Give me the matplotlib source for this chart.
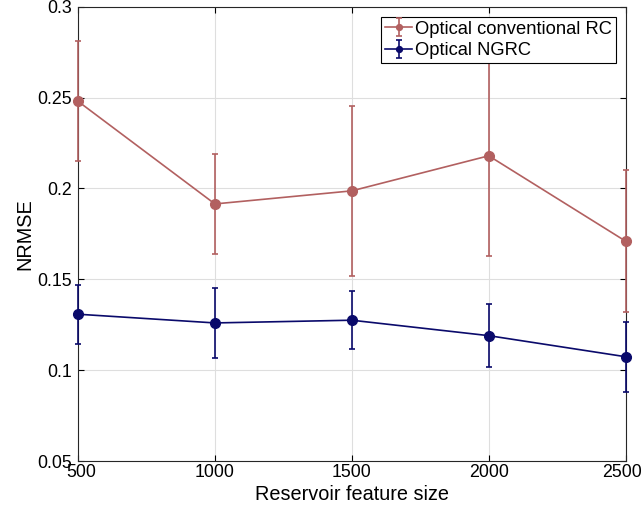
import matplotlib
matplotlib.use('Agg')
import matplotlib.pyplot as plt
import matplotlib.transforms as mtransforms
from matplotlib.ticker import FuncFormatter

plt.rcParams['font.family'] = ['Liberation Sans', 'DejaVu Sans']

# data
feature_size = [500, 1000, 1500, 2000, 2500]

rc_mean = [0.248, 0.1915, 0.1987, 0.218, 0.171]
rc_err = [0.033, 0.0275, 0.0467, 0.055, 0.039]

ngrc_mean = [0.1308, 0.126, 0.1275, 0.119, 0.1074]
ngrc_err = [0.0163, 0.0191, 0.016, 0.0175, 0.0192]

yticks = [0.05, 0.1, 0.15, 0.2, 0.25, 0.3]
xticks = [500, 1000, 1500, 2000, 2500]

red = '#B26060'
navy = '#0A0A6B'

fig = plt.figure(figsize=(6.42, 5.17), dpi=100)
ax = fig.add_axes([0.1215, 0.1083, 0.853, 0.8785])

for mean, err, col, lab in [(rc_mean, rc_err, red, 'Optical conventional RC'),
                            (ngrc_mean, ngrc_err, navy, 'Optical NGRC')]:
    eb = ax.errorbar(feature_size, mean, yerr=err, color=col, marker='o',
                     markersize=7, linewidth=1.2, elinewidth=1.2, capsize=2.5,
                     capthick=1.2, label=lab, zorder=4)
    # points sit on the axis edges, draw them over the spines
    for art in eb.get_children():
        art.set_clip_on(False)
        art.set_zorder(4)

ax.set_xlim(500, 2500)
ax.set_ylim(0.05, 0.3)
ax.set_xticks(xticks)
ax.set_yticks(yticks)
ax.yaxis.set_major_formatter(FuncFormatter(lambda v, p: f'{v:g}'))
ax.tick_params(direction='in', labelsize=12.8, top=True, right=True,
               length=4, width=0.8)
ax.tick_params(axis='x', pad=2)
ax.tick_params(axis='y', pad=4.5)
ax.grid(True, color='#dedede', linewidth=0.8)
ax.set_axisbelow(True)
for s in ax.spines.values():
    s.set_linewidth(0.8)
    s.set_color('#262626')

# nudge the corner x labels: last one inside the figure, first clear of 0.05
lbls = ax.get_xticklabels()
left = mtransforms.ScaledTranslation(-4 / 100, 0, fig.dpi_scale_trans)
right = mtransforms.ScaledTranslation(3 / 100, 0, fig.dpi_scale_trans)
lbls[-1].set_transform(lbls[-1].get_transform() + left)
lbls[0].set_transform(lbls[0].get_transform() + right)

ax.set_xlabel('Reservoir feature size', fontsize=14.3, labelpad=3)
ax.set_ylabel('NRMSE', fontsize=14.3, labelpad=2)

leg = ax.legend(loc='upper right', fontsize=13.2, frameon=True, fancybox=False,
                borderpad=0.2, handlelength=1.5, handletextpad=0.15,
                labelspacing=0.25, borderaxespad=0.55, markerscale=0.6)
leg.get_frame().set_edgecolor('black')
leg.get_frame().set_linewidth(0.8)
leg.get_frame().set_alpha(1)
leg.set_zorder(10)

fig.savefig('out.png', dpi=100)
